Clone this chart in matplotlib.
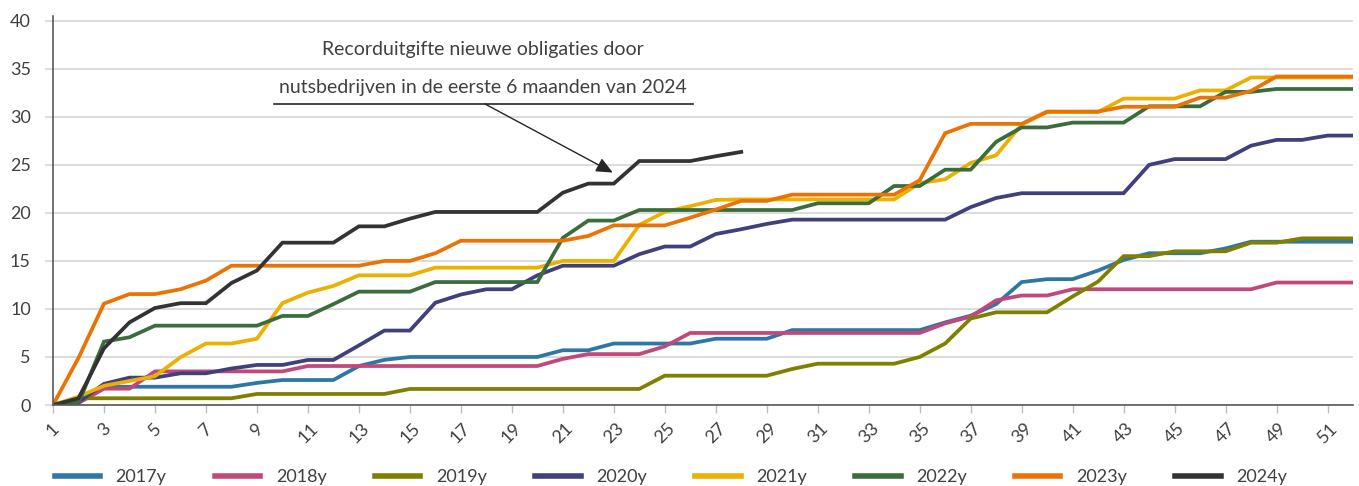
import matplotlib
matplotlib.use("Agg")
import matplotlib.pyplot as plt

weeks = list(range(1, 53))
tick_weeks = list(range(1, 53, 2))

y2017 = [0, 0.5, 1.9, 1.9, 1.9, 1.9, 1.9, 1.9, 2.3, 2.6, 2.6, 2.6, 4.06, 4.7, 5.0, 5.0, 5.0, 5.0, 5.0, 5.0,
         5.7, 5.7, 6.4, 6.4, 6.4, 6.4, 6.9, 6.9, 6.9, 7.8, 7.8, 7.8, 7.8, 7.8, 7.8, 8.6, 9.3, 10.5, 12.8, 13.1,
         13.1, 14.0, 15.1, 15.8, 15.8, 15.8, 16.3, 17.0, 17.0, 17.0, 17.0, 17.0]
y2018 = [0, 0.2, 1.7, 1.7, 3.5, 3.5, 3.5, 3.5, 3.5, 3.5, 4.06, 4.06, 4.06, 4.06, 4.06, 4.06, 4.06, 4.06, 4.06, 4.06,
         4.8, 5.3, 5.3, 5.3, 6.1, 7.5, 7.5, 7.5, 7.5, 7.5, 7.5, 7.5, 7.5, 7.5, 7.5, 8.5, 9.2, 10.9, 11.4, 11.4,
         12.05, 12.05, 12.05, 12.05, 12.05, 12.05, 12.05, 12.05, 12.75, 12.75, 12.75, 12.75]
y2019 = [0, 0.7, 0.7, 0.7, 0.7, 0.7, 0.7, 0.7, 1.15, 1.15, 1.15, 1.15, 1.15, 1.15, 1.67, 1.67, 1.67, 1.67, 1.67, 1.67,
         1.67, 1.67, 1.67, 1.67, 3.05, 3.05, 3.05, 3.05, 3.05, 3.75, 4.3, 4.3, 4.3, 4.3, 5.0, 6.4, 9.0, 9.65, 9.65, 9.65,
         11.3, 12.85, 15.5, 15.5, 16.0, 16.0, 16.0, 16.9, 16.9, 17.35, 17.35, 17.35]
y2020 = [0, 0.3, 2.2, 2.85, 2.85, 3.3, 3.3, 3.8, 4.17, 4.17, 4.69, 4.69, 6.2, 7.75, 7.75, 10.65, 11.5, 12.05, 12.05, 13.5,
         14.5, 14.5, 14.5, 15.7, 16.5, 16.5, 17.8, 18.3, 18.85, 19.3, 19.3, 19.3, 19.3, 19.3, 19.3, 19.3, 20.6, 21.55, 22.05, 22.05,
         22.05, 22.05, 22.05, 25.0, 25.6, 25.6, 25.6, 27.0, 27.6, 27.6, 28.05, 28.05]
y2021 = [0, 0.87, 2.0, 2.5, 3.0, 4.97, 6.4, 6.4, 6.9, 10.6, 11.7, 12.4, 13.5, 13.5, 13.5, 14.3, 14.3, 14.3, 14.3, 14.3,
         15.0, 15.0, 15.0, 18.75, 20.1, 20.7, 21.35, 21.4, 21.4, 21.4, 21.4, 21.4, 21.4, 21.4, 23.1, 23.5, 25.2, 26.0, 29.2, 30.5,
         30.5, 30.5, 31.9, 31.9, 31.9, 32.75, 32.75, 34.1, 34.1, 34.1, 34.1, 34.1]
y2022 = [0, 0.2, 6.6, 7.05, 8.26, 8.26, 8.26, 8.26, 8.26, 9.27, 9.27, 10.5, 11.8, 11.8, 11.8, 12.8, 12.8, 12.8, 12.8, 12.8,
         17.4, 19.2, 19.2, 20.3, 20.3, 20.3, 20.3, 20.3, 20.3, 20.3, 21.0, 21.0, 21.0, 22.8, 22.8, 24.5, 24.5, 27.4, 28.9, 28.9,
         29.4, 29.4, 29.4, 31.1, 31.1, 31.1, 32.6, 32.6, 32.9, 32.9, 32.9, 32.9]
y2023 = [0, 4.9, 10.55, 11.55, 11.55, 12.05, 12.95, 14.5, 14.5, 14.5, 14.5, 14.5, 14.5, 15.0, 15.0, 15.8, 17.1, 17.1, 17.1, 17.1,
         17.1, 17.6, 18.7, 18.7, 18.7, 19.5, 20.35, 21.25, 21.25, 21.9, 21.9, 21.9, 21.9, 21.9, 23.4, 28.3, 29.27, 29.27, 29.27, 30.55,
         30.55, 30.55, 31.05, 31.05, 31.05, 32.0, 32.0, 32.7, 34.2, 34.2, 34.2, 34.2]
y2024 = [0, 0.7, 5.9, 8.6, 10.1, 10.6, 10.6, 12.7, 14.0, 16.9, 16.9, 16.9, 18.6, 18.6, 19.4, 20.1, 20.1, 20.1, 20.1, 20.1,
         22.1, 23.05, 23.05, 25.4, 25.4, 25.4, 25.9, 26.35]

series_labels = ["2017y", "2018y", "2019y", "2020y", "2021y", "2022y", "2023y", "2024y"]
series_values = [y2017, y2018, y2019, y2020, y2021, y2022, y2023, y2024]
colors = ["#2E77A5", "#C2487B", "#7F7F00", "#40407C", "#EBB000", "#3B6D3B", "#EB7305", "#333333"]

annotation_lines = ["Recorduitgifte nieuwe obligaties door",
                    "nutsbedrijven in de eerste 6 maanden van 2024"]

plt.rcParams['font.family'] = ['Lato', 'DejaVu Sans']
text_color = "#404040"

fig = plt.figure(figsize=(13.59, 4.86), dpi=100)
ax = fig.add_axes([53/1359, 1 - 405/486, 1300/1359, (405 - 16)/486])

for lab, vals, c in zip(series_labels, series_values, colors):
    ax.plot(weeks[:len(vals)], vals, color=c, lw=2.7, label=lab, solid_joinstyle='miter')

ax.set_xlim(1, 52)
ax.set_ylim(0, 40.5)
ax.set_yticks(range(0, 41, 5))
ax.set_xticks(tick_weeks)
ax.set_xticklabels([str(w) for w in tick_weeks], rotation=45, ha='center', va='top')
ax.grid(axis='y', color='#d9d9d9', lw=1.3)
ax.set_axisbelow(True)
for s in ['top', 'right']:
    ax.spines[s].set_visible(False)
ax.spines['left'].set_color('#595959')
ax.spines['bottom'].set_color('#595959')
ax.spines['left'].set_linewidth(1.2)
ax.spines['bottom'].set_linewidth(1.2)
ax.tick_params(axis='y', length=6, color='#d9d9d9', width=1.3, labelsize=13, labelcolor=text_color, pad=10)
ax.tick_params(axis='x', length=6, color='#bfbfbf', width=1, labelsize=13, labelcolor=text_color, pad=5)

# annotation
ax.text(17.86, 37.0, annotation_lines[0], ha='center', va='center', fontsize=14, color=text_color)
ax.text(17.86, 33.1, annotation_lines[1], ha='center', va='center', fontsize=14, color=text_color)
ax.plot([9.67, 26.1], [31.35, 31.35], color='#262626', lw=1.2)
ax.annotate("", xy=(22.96, 24.2), xytext=(17.94, 31.35),
            arrowprops=dict(arrowstyle='-|>,head_length=1.0,head_width=0.45', color='#262626', lw=1.0,
                            shrinkA=0, shrinkB=0))

fig.legend(loc='center', bbox_to_anchor=(671/1359, 9/486), ncol=8, frameon=False,
           fontsize=13, handlelength=2.5, handletextpad=0.85, columnspacing=2.7,
           labelcolor=text_color)
for line in fig.legends[0].get_lines():
    line.set_linewidth(4)

fig.savefig("out.png", dpi=100)
